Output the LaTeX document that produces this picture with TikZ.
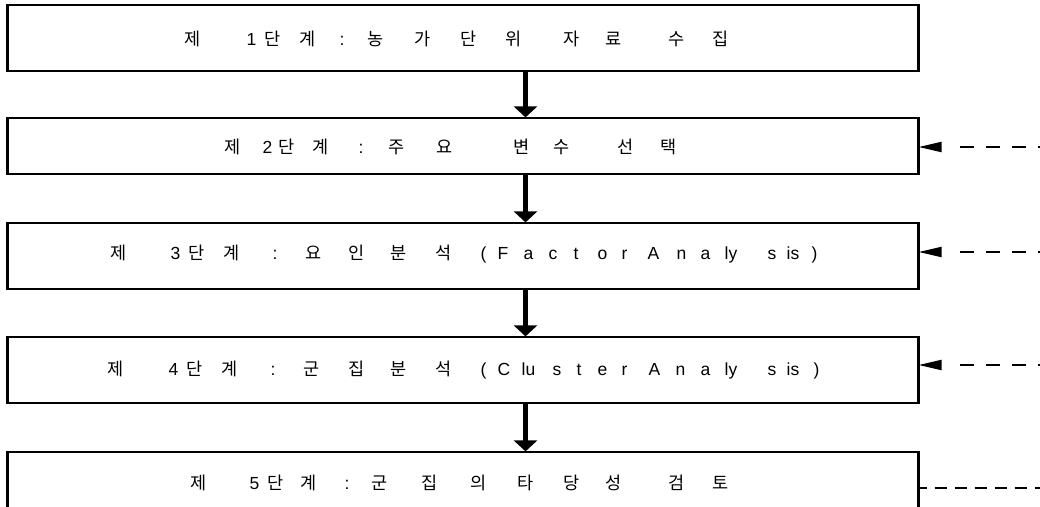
\documentclass[tikz,border=0pt]{standalone}
\usepackage{fontspec}
\setmainfont{Liberation Sans}
\newfontfamily\kr{Noto Sans CJK KR}
\usetikzlibrary{arrows.meta}
\newcommand\hc[2]{\rlap{\hspace*{#1pt}\kr #2}\ignorespaces}
\newcommand\lc[2]{\rlap{\hspace*{#1pt}\rmfamily #2}\ignorespaces}
\tikzset{
  stepbox/.style={draw=black, line width=1.2pt, minimum width=910pt, minimum height=66pt, inner sep=0pt, fill=white},
  sidebar/.style={line width=2.2pt},
  lbl/.style={anchor=base west, inner sep=0pt, font=\fontsize{17.5}{20}\selectfont},
  flowarrow/.style={line width=5pt, -{Triangle[length=11pt,width=23pt]}},
  backarrow/.style={line width=2pt, dash pattern=on 14pt off 12pt on 14pt off 12pt on 14pt off 12pt on 14pt off 60pt, -{Triangle[length=23pt,width=10pt]}},
  backline/.style={line width=1.6pt, dash pattern=on 12pt off 8pt, dash phase=4pt}
}
\begin{document}
\begin{tikzpicture}[x=1pt,y=-1pt]
\useasboundingbox (0,0) rectangle (1040,506);
\clip (0,0) rectangle (1040,506);
\fill[white] (0,0) rectangle (1040,506);
% boxes
\node[stepbox] (b1) at (463,38) {};
\node[stepbox, minimum height=56pt] (b2) at (463,146) {};
\node[stepbox] (b3) at (463,256) {};
\node[stepbox] (b4) at (463,370) {};
\node[stepbox] (b5) at (463,485) {};
\foreach \b in {b1,b2,b3,b4,b5}{
  \draw[sidebar] (\b.north west) -- (\b.south west) (\b.north east) -- (\b.south east);
}
% labels
\node[lbl] (t1) at (0,45.5) {\hc{184}{제} \lc{246}{1} \hc{264}{단} \hc{299}{계} \lc{339}{:} \hc{367}{농} \hc{414}{가} \hc{460}{단} \hc{505}{위} \hc{563}{자} \hc{605}{료} \hc{668}{수} \hc{712}{집}};
\node[lbl] (t2) at (0,153.5) {\hc{224}{제} \lc{262}{2} \hc{278}{단} \hc{312}{계} \lc{358}{:} \hc{388}{주} \hc{436}{요} \hc{513}{변} \hc{553}{수} \hc{617}{선} \hc{660}{택}};
\node[lbl] (t3) at (0,259.5) {\hc{110}{제} \lc{170}{3} \hc{188}{단} \hc{223}{계} \lc{272}{:} \hc{305}{요} \hc{348}{인} \hc{390}{분} \hc{435}{석} \lc{480}{(} \lc{497}{F} \lc{523}{a} \lc{548}{c} \lc{573}{t} \lc{597}{o} \lc{621}{r} \lc{647}{A} \lc{676}{n} \lc{700}{a} \lc{724}{ly} \lc{767}{s} \lc{786}{is} \lc{811}{)}};
\node[lbl] (t4) at (0,375.5) {\hc{107}{제} \lc{168}{4} \hc{186}{단} \hc{221}{계} \lc{270}{:} \hc{303}{군} \hc{348}{집} \hc{390}{분} \hc{435}{석} \lc{480}{(} \lc{497}{C} \lc{521}{lu} \lc{552}{s} \lc{576}{t} \lc{597}{e} \lc{621}{r} \lc{648}{A} \lc{675}{n} \lc{700}{a} \lc{724}{ly} \lc{767}{s} \lc{786}{is} \lc{813}{)}};
\node[lbl] (t5) at (0,489.5) {\hc{190}{제} \lc{249}{5} \hc{267}{단} \hc{300}{계} \lc{344}{:} \hc{371}{군} \hc{421}{집} \hc{470}{의} \hc{517}{타} \hc{563}{당} \hc{605}{성} \hc{668}{검} \hc{712}{토}};
% flow arrows
\coordinate (ax) at (525.5,0);
\draw[flowarrow] (b1.south -| ax) -- (b2.north -| ax);
\draw[flowarrow] (b2.south -| ax) -- (b3.north -| ax);
\draw[flowarrow] (b3.south -| ax) -- (b4.north -| ax);
\draw[flowarrow] (b4.south -| ax) -- (b5.north -| ax);
% feedback lines
\coordinate (r2) at (1052,147);
\coordinate (r3) at (1052,252);
\coordinate (r4) at (1052,365);
\coordinate (r5) at (1045,488);
\draw[backarrow] (r2) -- (r2 -| b2.east);
\draw[backarrow] (r3) -- (r3 -| b3.east);
\draw[backarrow] (r4) -- (r4 -| b4.east);
\draw[backline] (r5 -| b5.east) -- (r5);
\end{tikzpicture}
\end{document}
